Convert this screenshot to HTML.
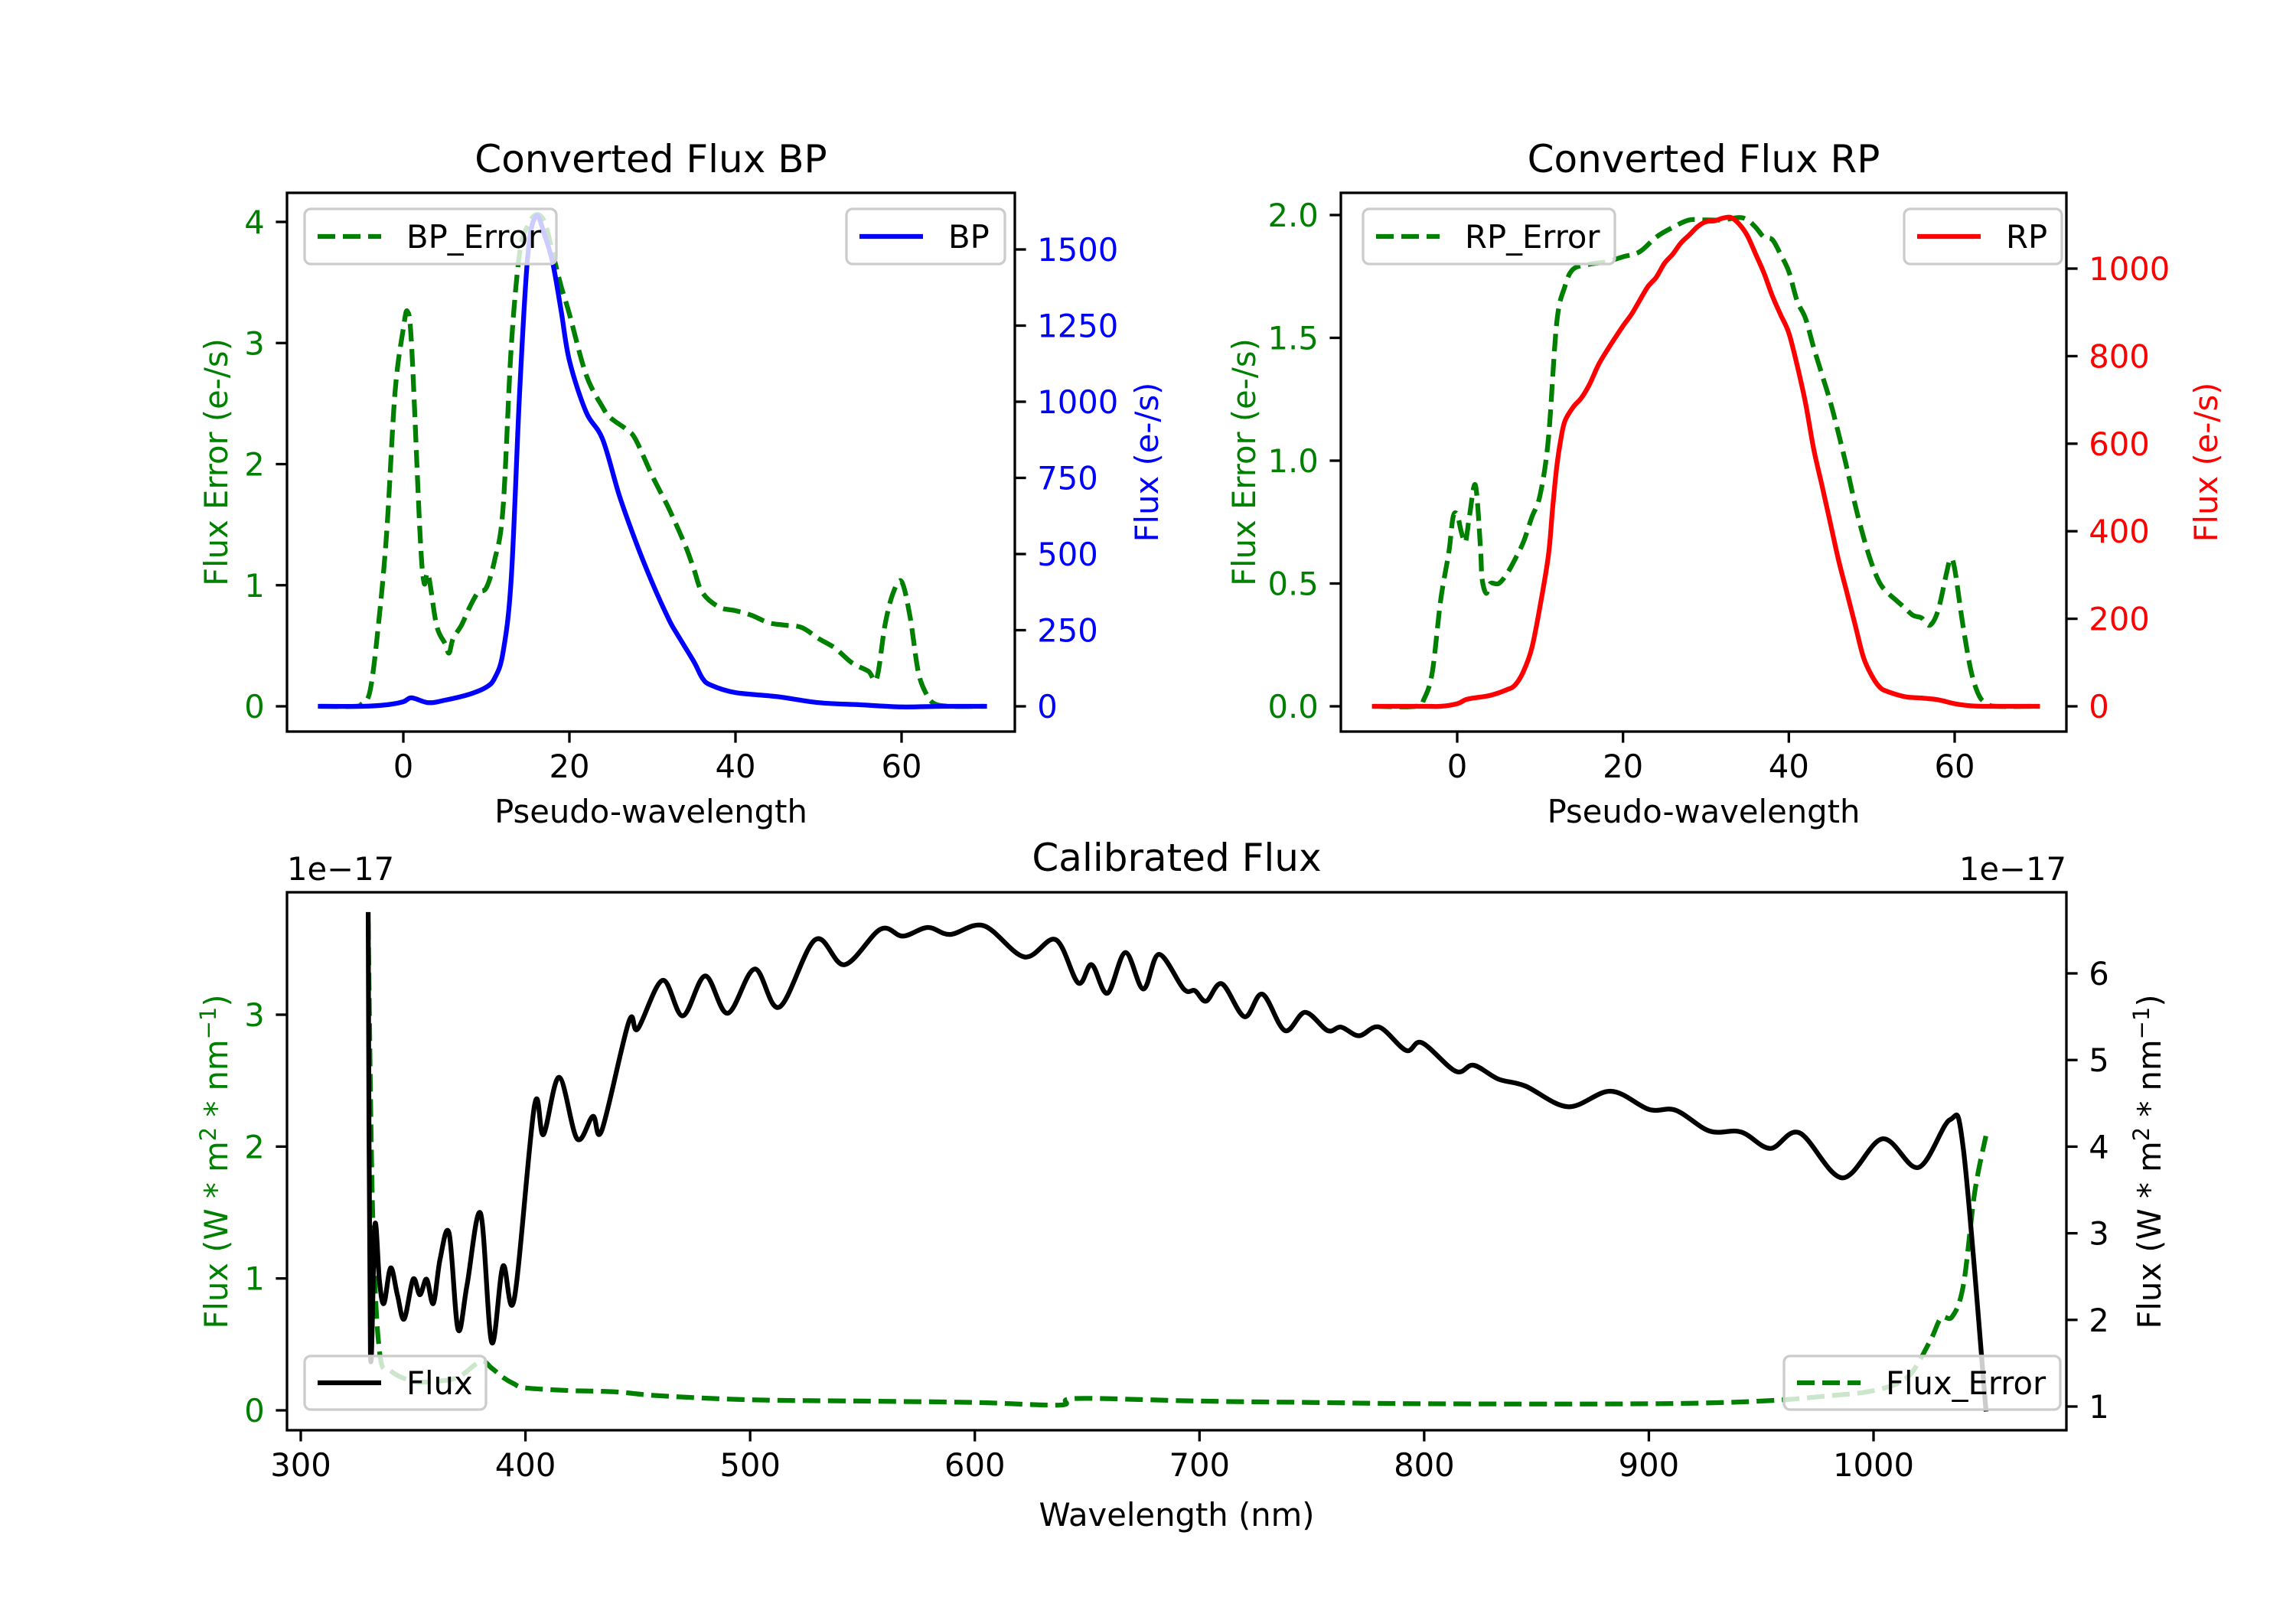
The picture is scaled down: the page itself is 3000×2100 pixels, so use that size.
<!DOCTYPE html>
<html><head><meta charset="utf-8"><style>
html,body{margin:0;padding:0;background:#fff}
svg{display:block}
text{font-family:"DejaVu Sans","Liberation Sans",sans-serif}
</style></head><body>
<svg id="fig" width="3000" height="2100" viewBox="0 0 3000 2100" xmlns="http://www.w3.org/2000/svg">
<rect width="3000" height="2100" fill="#fff"/>
</svg>
<script>
// ---- BP panel data ----
const bpX = [-10,-5,-2,0,1,3,5,8,10,11,12,13,14,15,16,17,18,19,20,22,24,26,28,30,32,33,35,36,37,40,45,50,55,60,65,70];
const bpFlux = [0,0,5,15,28,12,20,40,63,93,176,420,1028,1485,1610,1548,1455,1300,1135,967,877,693,540,404,284,236,146,93,70,45,32,12,5,-2,0,0];
const bpErrX = [-10,-6,-5,-4,-3,-2,-1,0,0.5,1,2,2.5,3,4,5,5.5,6,7,8,9,10,11,12,13,14,15,16,17,18,19,20,22,24,25,27,28,30,32,34,35,36,38,40,42,44,46,48,50,52,54,56,57,58,59,60,61,62,63,64,66,70];
const bpErr = [0,0,0.02,0.13,0.67,1.44,2.59,3.12,3.26,2.97,1.44,1.02,1.09,0.67,0.52,0.44,0.56,0.67,0.82,0.94,0.98,1.21,1.63,2.97,3.74,3.97,4.06,4.0,3.74,3.47,3.24,2.74,2.47,2.38,2.28,2.2,1.9,1.63,1.32,1.13,0.94,0.82,0.79,0.75,0.69,0.67,0.65,0.56,0.48,0.36,0.29,0.23,0.67,0.94,1.03,0.75,0.29,0.1,0.02,0,0];
// ---- RP panel data ----
const rpX = [-10,-4,-2,0,1,2,4,6,7,8,9,10,11,11.5,12,12.5,13,14,15,16,17,18,20,21,22,23,24,25,26,27,28,29,30,31,32,33,34,35,36,37,38,39,40,41,42,43,44,45,46,47,48,49,50,51,52,54,56,58,60,62,64,70];
const rpFlux = [0,0,0,6,15,19,25,38,49,80,133,229,345,451,546,610,652,684,705,737,779,811,869,895,927,959,980,1012,1033,1059,1077,1096,1107,1109,1115,1117,1102,1075,1033,990,938,895,853,779,694,588,504,419,334,260,186,112,70,43,33,22,19,15,6,1,0,0];
const rpErrX = [-10,-5,-4,-3,-2,-1,-0.5,0,0.5,1,1.5,2.2,2.8,3,3.5,4,5,6,7,8,9,10,11,12,13,14,16,18,20,22,24,26,28,30,32,34,35,36,37,38,39,40,41,42,43,44,45,46,47,48,49,50,51,52,53,54,55,56,57,58,59,59.5,60,61,62,63,64,65,70];
const rpErr = [0,0,0.03,0.14,0.43,0.63,0.77,0.78,0.71,0.67,0.78,0.9,0.65,0.52,0.46,0.5,0.5,0.54,0.6,0.67,0.77,0.86,1.09,1.56,1.71,1.78,1.8,1.81,1.83,1.85,1.91,1.95,1.98,1.98,1.98,1.99,1.98,1.95,1.91,1.9,1.84,1.77,1.65,1.58,1.46,1.35,1.24,1.11,0.97,0.82,0.69,0.58,0.5,0.46,0.43,0.4,0.37,0.36,0.33,0.39,0.54,0.6,0.56,0.33,0.14,0.04,0.01,0,0];
// ---- Calibrated flux data ----
const calX = [330,331,333,335,337,340,343,346,350,353,356,359,362,366,370,374,380,385,390,395,404,408,415,423,430,434,446,450,461,470,480,490,502,513,529,542,558,568,579,589,604,622,636,646,652,659,667,675,682,693,698,703,710,720,728,738,747,757,763,771,780,792,799,814,822,833,845,864,883,900,912,927,941,954,967,986,1004,1020,1034,1040,1050];
const calFlux = [6.68,1.63,3.10,2.45,2.19,2.60,2.29,2.01,2.47,2.29,2.47,2.19,2.70,3.00,1.89,2.40,3.23,1.74,2.62,2.24,4.47,4.14,4.80,4.09,4.35,4.19,5.44,5.36,5.92,5.51,5.97,5.54,6.05,5.61,6.39,6.10,6.51,6.43,6.53,6.45,6.55,6.19,6.39,5.89,6.10,5.77,6.24,5.82,6.22,5.82,5.80,5.68,5.88,5.50,5.76,5.34,5.55,5.34,5.38,5.28,5.38,5.11,5.20,4.87,4.94,4.78,4.70,4.46,4.64,4.43,4.42,4.18,4.17,3.98,4.16,3.64,4.09,3.76,4.31,3.97,0.97];
const calErrX = [330,332,335,340,350,360,370,380,385,390,395,400,420,440,460,500,550,600,638,645,700,750,800,900,950,980,1000,1015,1025,1030,1035,1040,1045,1050];
const calErr = [3.7,1.5,0.45,0.3,0.22,0.22,0.25,0.37,0.32,0.25,0.2,0.17,0.15,0.14,0.11,0.08,0.07,0.06,0.04,0.09,0.07,0.06,0.05,0.05,0.07,0.11,0.15,0.25,0.52,0.7,0.71,0.95,1.65,2.08];
// ---- tick labels ----
const bpXTicks = [0,20,40,60];
const bpErrTicks = [0,1,2,3,4];
const bpFluxTicks = [0,250,500,750,1000,1250,1500];
const rpXTicks = [0,20,40,60];
const rpErrTicks = ["0.0","0.5","1.0","1.5","2.0"];
const rpFluxTicks = [0,200,400,600,800,1000];
const calXTicks = [300,400,500,600,700,800,900,1000];
const calErrTicks = [0,1,2,3];
const calFluxTicks = [1,2,3,4,5,6];

const NS = "http://www.w3.org/2000/svg";
const fig = document.getElementById('fig');
function mk(tag, attrs, parent){const e=document.createElementNS(NS,tag);for(const k in attrs)e.setAttribute(k,attrs[k]);(parent||fig).appendChild(e);return e;}
function lin(v0,p0,v1,p1){return v=>p0+(v-v0)*(p1-p0)/(v1-v0);}
const FS=41.7, TL=14.6, SW=3.3;

function line(g, xs, ys, sx, sy, color, dashed, name){
  const P=xs.map((x,i)=>[sx(x),sy(ys[i])]);
  let d='M'+P[0][0].toFixed(1)+','+P[0][1].toFixed(1);
  for(let i=0;i<P.length-1;i++){
    const p0=P[Math.max(0,i-1)],p1=P[i],p2=P[i+1],p3=P[Math.min(P.length-1,i+2)];
    const c1=[p1[0]+(p2[0]-p0[0])/6,p1[1]+(p2[1]-p0[1])/6];
    const c2=[p2[0]-(p3[0]-p1[0])/6,p2[1]-(p3[1]-p1[1])/6];
    d+='C'+c1[0].toFixed(1)+','+c1[1].toFixed(1)+' '+c2[0].toFixed(1)+','+c2[1].toFixed(1)+' '+p2[0].toFixed(1)+','+p2[1].toFixed(1);
  }
  const p=mk('path',{d:d,fill:'none',stroke:color,'stroke-width':6.25,'stroke-linejoin':'round','stroke-linecap':dashed?'butt':'square'},g);
  if(dashed)p.setAttribute('stroke-dasharray','23 10');
  
  
}
function xticks(g, ticks, sx, bottom, nm){
  ticks.forEach(t=>{
    const x=sx(+t);
    mk('line',{x1:x,x2:x,y1:bottom,y2:bottom+TL,stroke:'#000','stroke-width':SW},g);
    const tx=mk('text',{x:x,y:bottom+TL+14.6+31,'font-size':FS,'text-anchor':'middle',fill:'#000'},g);
    tx.textContent=t;
    
    
  });
}
function yticks(g, ticks, sy, xEdge, side, color, nm){
  ticks.forEach(t=>{
    const y=sy(+t);
    const x2= side==='left'? xEdge-TL : xEdge+TL;
    mk('line',{x1:xEdge,x2:x2,y1:y,y2:y,stroke:'#000','stroke-width':SW},g);
    const tx=mk('text',{x: side==='left'? x2-14.6 : x2+14.6, y:y+15,'font-size':FS,'text-anchor': side==='left'?'end':'start',fill:color},g);
    tx.textContent=t;
    
    
  });
}
function vlabel(g, x, y, txt, color, nm){
  const t=mk('text',{x:x,y:y,'font-size':FS,'text-anchor':'middle',fill:color,transform:`rotate(-90 ${x} ${y})`},g);
  if(typeof txt==='string') t.textContent=txt; else txt(t);
  
  
  return t;
}
function legend(g, x, y, w, h, color, dashed, label, nm){
  const lg=mk('g',{},g);
  
  
  mk('rect',{x:x,y:y,width:w,height:h,rx:8,fill:'#fff','fill-opacity':0.8,stroke:'#cccccc','stroke-width':3.3},lg);
  const l=mk('line',{x1:x+17,x2:x+100,y1:y+h/2,y2:y+h/2,stroke:color,'stroke-width':6.25},lg);
  if(dashed)l.setAttribute('stroke-dasharray','23 10');
  const t=mk('text',{x:x+133,y:y+h/2+15,'font-size':FS,fill:'#000'},lg);
  t.textContent=label;
}
function frame(g,L,T,R,B){
  mk('rect',{x:L,y:T,width:R-L,height:B-T,fill:'none',stroke:'#000','stroke-width':SW},g);
}
function clip(id,L,T,R,B){const c=mk('clipPath',{id:id});mk('rect',{x:L,y:T,width:R-L,height:B-T},c);}

// ===== Panel BP =====
(function(){
  const L=375,T=252,R=1326,B=956;
  const g=mk('g',{});  
  const sx=lin(0,527,60,1178), syE=lin(0,923,4,290), syF=lin(0,923,1500,326);
  clip('cbp',L,T,R,B);
  const pg=mk('g',{'clip-path':'url(#cbp)'},g);
  line(pg,bpErrX,bpErr,sx,syE,'#008000',true,'bp-error-line');
  line(pg,bpX,bpFlux,sx,syF,'#0000ff',false,'bp-flux-line');
  frame(g,L,T,R,B);
  xticks(g,bpXTicks,sx,B,'bp');
  yticks(g,bpErrTicks,syE,L,'left','#008000','bp-error');
  yticks(g,bpFluxTicks,syF,R,'right','#0000ff','bp-flux');
  const tt=mk('text',{x:(L+R)/2,y:225,'font-size':50,'text-anchor':'middle',fill:'#000'},g); tt.textContent='Converted Flux BP';
   
  const xl=mk('text',{x:(L+R)/2,y:1075,'font-size':FS,'text-anchor':'middle',fill:'#000'},g); xl.textContent='Pseudo-wavelength';
   
  vlabel(g,297,604,'Flux Error (e-/s)','#008000','bp-left-y-axis-title');
  vlabel(g,1513,604,'Flux (e-/s)','#0000ff','bp-right-y-axis-title');
  legend(g,398,273,329,72,'#008000',true,'BP_Error','bp-error-legend');
  legend(g,1106,273,207,72,'#0000ff',false,'BP','bp-legend');
})();

// ===== Panel RP =====
(function(){
  const L=1752,T=252,R=2700,B=956;
  const g=mk('g',{});  
  const sx=lin(0,1904,60,2554), syE=lin(0,923,2,281), syF=lin(0,923,1000,351);
  clip('crp',L,T,R,B);
  const pg=mk('g',{'clip-path':'url(#crp)'},g);
  line(pg,rpErrX,rpErr,sx,syE,'#008000',true,'rp-error-line');
  line(pg,rpX,rpFlux,sx,syF,'#ff0000',false,'rp-flux-line');
  frame(g,L,T,R,B);
  xticks(g,rpXTicks,sx,B,'rp');
  yticks(g,rpErrTicks,syE,L,'left','#008000','rp-error');
  yticks(g,rpFluxTicks,syF,R,'right','#ff0000','rp-flux');
  const tt=mk('text',{x:(L+R)/2,y:225,'font-size':50,'text-anchor':'middle',fill:'#000'},g); tt.textContent='Converted Flux RP';
   
  const xl=mk('text',{x:(L+R)/2,y:1075,'font-size':FS,'text-anchor':'middle',fill:'#000'},g); xl.textContent='Pseudo-wavelength';
   
  vlabel(g,1640,604,'Flux Error (e-/s)','#008000','rp-left-y-axis-title');
  vlabel(g,2897,604,'Flux (e-/s)','#ff0000','rp-right-y-axis-title');
  legend(g,1781,273,329,72,'#008000',true,'RP_Error','rp-error-legend');
  legend(g,2488,273,206,72,'#ff0000',false,'RP','rp-legend');
})();

// ===== Calibrated =====
(function(){
  const L=375,T=1166,R=2700,B=1869;
  const g=mk('g',{});  
  const sx=lin(300,393,1000,2448), syE=lin(0,1843,3,1326), syF=lin(1,1838,6,1272);
  clip('ccal',L,T,R,B);
  const pg=mk('g',{'clip-path':'url(#ccal)'},g);
  line(pg,calErrX,calErr,sx,syE,'#008000',true,'flux-error-line');
  line(pg,calX,calFlux,sx,syF,'#000000',false,'calibrated-flux-line');
  frame(g,L,T,R,B);
  xticks(g,calXTicks,sx,B,'calibrated');
  yticks(g,calErrTicks,syE,L,'left','#008000','calibrated-error');
  yticks(g,calFluxTicks,syF,R,'right','#000000','calibrated-flux');
  const tt=mk('text',{x:(L+R)/2,y:1138,'font-size':50,'text-anchor':'middle',fill:'#000'},g); tt.textContent='Calibrated Flux';
   
  const o1=mk('text',{x:L,y:1150,'font-size':FS,fill:'#000'},g); o1.textContent='1e\u221217';
   
  const o2=mk('text',{x:R,y:1150,'font-size':FS,'text-anchor':'end',fill:'#000'},g); o2.textContent='1e\u221217';
   
  const xl=mk('text',{x:(L+R)/2,y:1994,'font-size':FS,'text-anchor':'middle',fill:'#000'},g); xl.textContent='Wavelength (nm)';
   
  const unit=t=>{
    const a=mk('tspan',{},t); a.textContent='Flux (W * m';
    const b=mk('tspan',{'font-size':29,dy:-15},t); b.textContent='2';
    const c=mk('tspan',{dy:15},t); c.textContent=' * nm';
    const d=mk('tspan',{'font-size':29,dy:-15},t); d.textContent='\u22121';
    const e=mk('tspan',{dy:15},t); e.textContent=')';
  };
  vlabel(g,297,1518,unit,'#008000','calibrated-left-y-axis-title');
  vlabel(g,2823,1518,unit,'#000000','calibrated-right-y-axis-title');
  legend(g,398,1772,237,70,'#000000',false,'Flux','flux-legend');
  legend(g,2331,1772,361,70,'#008000',true,'Flux_Error','flux-error-legend');
})();
</script>
</body></html>
